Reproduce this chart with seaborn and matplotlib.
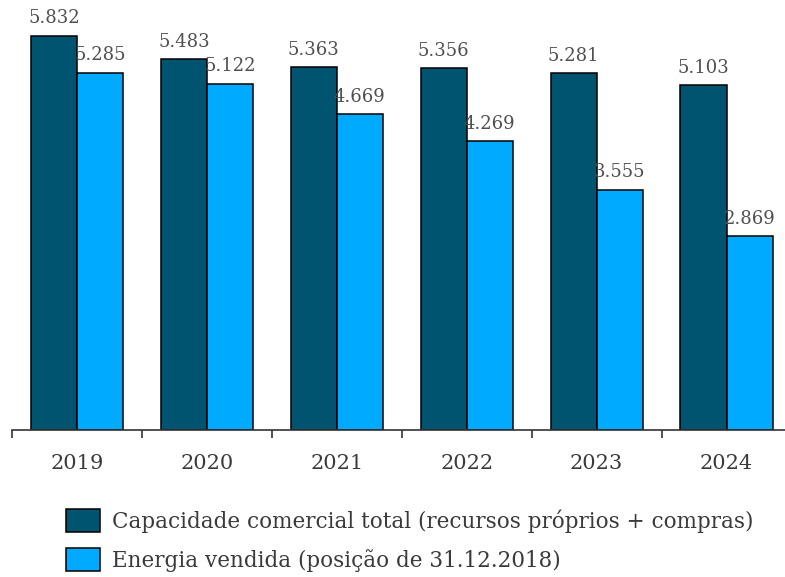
import numpy as np
import pandas as pd
import matplotlib
matplotlib.use("Agg")
import matplotlib.pyplot as plt
import seaborn as sns

years = ["2019", "2020", "2021", "2022", "2023", "2024"]
capacidade = [5.832, 5.483, 5.363, 5.356, 5.281, 5.103]
energia = [5.285, 5.122, 4.669, 4.269, 3.555, 2.869]
series_names = ["Capacidade comercial total (recursos próprios + compras)",
                "Energia vendida (posição de 31.12.2018)"]
colors = ["#00546F", "#00AAFF"]

df = pd.DataFrame({
    "ano": years * 2,
    "valor": capacidade + energia,
    "serie": [series_names[0]] * len(years) + [series_names[1]] * len(years),
})

sns.set_style("white")
plt.rcParams["font.family"] = ["DejaVu Serif"]
text_col = "#3a3a3a"

fig = plt.figure(figsize=(7.85, 5.77), dpi=100)
ax = fig.add_axes([0.0153, 0.2548, 0.993, 0.7452])

sns.barplot(data=df, x="ano", y="valor", hue="serie", palette=colors,
            saturation=1, width=0.71, edgecolor="black", linewidth=1.1, ax=ax)

for cont in ax.containers:
    ax.bar_label(cont, labels=[f"{v:.3f}" for v in cont.datavalues],
                 padding=6, fontsize=13, color="#505050", clip_on=False)

ax.set_xlim(-0.5, 5.5)
ax.set_ylim(0, 6.36)
for s in ["top", "right", "left"]:
    ax.spines[s].set_visible(False)
ax.spines["bottom"].set_color("#333333")
ax.spines["bottom"].set_linewidth(1.2)
ax.set_yticks([])
ax.set_xlabel("")
ax.set_ylabel("")
ax.set_xticks(np.arange(-0.5, 6.0, 1.0), minor=True)
ax.tick_params(axis="x", which="minor", length=6, width=1.2, color="#333333",
               direction="out", bottom=True)
ax.tick_params(axis="x", which="major", length=0, pad=17, labelsize=15,
               labelcolor=text_col)

handles, labels = ax.get_legend_handles_labels()
ax.legend_.remove()
fig.legend(handles, labels, loc="upper left", bbox_to_anchor=(0.084, 0.117),
           frameon=False, fontsize=15.5, handlelength=1.57, handleheight=1.25,
           handletextpad=0.55, labelspacing=0.7, labelcolor=text_col,
           borderaxespad=0, borderpad=0)

fig.savefig("out.png", dpi=100)
